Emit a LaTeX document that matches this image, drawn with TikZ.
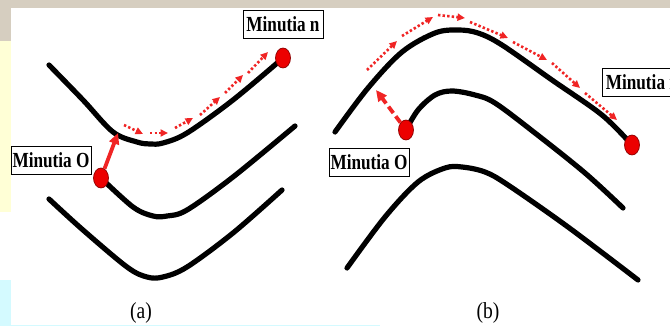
\documentclass[tikz,border=0pt]{standalone}
\usepackage{fontspec}
\usepackage{graphicx}
\setmainfont{Liberation Serif}
\usetikzlibrary{shapes.geometric,arrows.meta}
\definecolor{beige}{RGB}{214,206,192}
\definecolor{paleyel}{RGB}{255,255,214}
\definecolor{palecyan}{RGB}{212,250,255}
\definecolor{dotred}{RGB}{236,0,0}
\definecolor{arrred}{RGB}{240,36,36}
\begin{document}
\begin{tikzpicture}[x=1pt,y=-1pt,
  ridge/.style={line width=5.2pt, line cap=round, line join=round},
  mdot/.style={ellipse, fill=dotred, draw=red!55!black, line width=0.7pt,
    minimum width=15pt, minimum height=20pt, inner sep=0pt},
  lbl/.style={draw, line width=0.8pt, fill=white, inner sep=0pt,
    minimum width=80pt, minimum height=28pt,
    font=\fontsize{21.5}{21.5}\selectfont\bfseries},
  trail/.style={arrred, line width=2.6pt, dash pattern=on 2.4pt off 2.2pt,
    -{Triangle[length=7.5pt,width=7pt]}},
  solidarr/.style={arrred, line width=3.8pt, -{Triangle[length=11pt,width=10pt]}},
  dasharr/.style={arrred, line width=3.8pt, dash pattern=on 8pt off 4pt,
    -{Triangle[length=11pt,width=10pt]}},
  captext/.style={font=\fontsize{23}{23}\selectfont}
]
\useasboundingbox (0,0) rectangle (670,326);
\clip (0,0) rectangle (670,326);
% background
\fill[white] (0,0) rectangle (670,326);
\fill[beige] (0,0) rectangle (670,8);
\fill[beige] (0,0) rectangle (11,41);
\fill[paleyel] (0,41) rectangle (11,212);
\fill[palecyan] (0,280) rectangle (11,326);
\fill[palecyan] (11,324.6) rectangle (380,326);

% ---------- panel (a) ----------
\coordinate (pa0) at (101,178);
\coordinate (pan) at (283,58);
\draw[ridge] plot[smooth, tension=0.55] coordinates {(49,65) (83,100) (113,132) (137,142) (150,144) (163,143) (187,133) (233,100) (pan)};
\draw[ridge] plot[smooth, tension=0.55] coordinates {(pa0) (133,207) (153,216) (167,216) (187,210) (233,177) (295,126)};
\draw[ridge] plot[smooth, tension=0.55] coordinates {(49,199) (83,230) (127,267) (147,277) (163,277) (187,267) (233,233) (282,190)};
\node[mdot] (a0) at (pa0) {};
\node[mdot] (an) at (pan) {};
\node[lbl] (la0) at (51,160) {\scalebox{0.8}[1]{Minutia O}};
\node[lbl] (lan) at (283,24) {\scalebox{0.8}[1]{Minutia n}};
\coordinate (ta) at (118,133);
\draw[solidarr] (a0) -- (ta);
\coordinate (a1s) at (124,125); \coordinate (a1e) at (143,134);
\coordinate (a2s) at (150,133); \coordinate (a2e) at (168,133);
\coordinate (a3s) at (175,128); \coordinate (a3e) at (193,118);
\coordinate (a4s) at (200,115); \coordinate (a4e) at (220,97);
\coordinate (a5s) at (225,93);  \coordinate (a5e) at (243,75);
\coordinate (a6s) at (248,73);  \coordinate (a6e) at (268,52);
\foreach \i in {1,...,6} \draw[trail] (a\i s) -- (a\i e);
\node[captext] (capa) at (141,313) {\scalebox{0.85}[1]{(a)}};

% ---------- panel (b) ----------
\coordinate (pb0) at (406,130);
\coordinate (pbn) at (632,145);
\draw[ridge] plot[smooth, tension=0.55] coordinates {(335,132) (368,88) (402,52) (435,33) (458,30) (478,33) (502,45) (552,80) (602,115) (pbn)};
\draw[ridge] plot[smooth, tension=0.55] coordinates {(pb0) (418,110) (435,95) (452,91) (475,95) (495,103) (535,133) (585,173) (623,208)};
\draw[ridge] plot[smooth, tension=0.55] coordinates {(347,268) (385,217) (418,182) (445,168) (462,167) (485,172) (508,185) (568,227) (638,280)};
\node[mdot] (b0) at (pb0) {};
\node[mdot] (bn) at (pbn) {};
\node[lbl] (lb0) at (369,162) {\scalebox{0.8}[1]{Minutia O}};
\node[lbl, anchor=west] (lbn) at (602,82) {\scalebox{0.8}[1]{Minutia n}};
\coordinate (tb) at (376,90);
\draw[dasharr] (b0) -- (tb);
\coordinate (b1s) at (367,70); \coordinate (b1e) at (397,41);
\coordinate (b2s) at (402,36); \coordinate (b2e) at (433,17);
\coordinate (b3s) at (438,15); \coordinate (b3e) at (465,18);
\coordinate (b4s) at (470,22); \coordinate (b4e) at (508,38);
\coordinate (b5s) at (513,42); \coordinate (b5e) at (547,60);
\coordinate (b6s) at (552,63); \coordinate (b6e) at (580,88);
\coordinate (b7s) at (585,93); \coordinate (b7e) at (617,120);
\foreach \i in {1,...,7} \draw[trail] (b\i s) -- (b\i e);
\node[captext] (capb) at (488,313) {\scalebox{0.85}[1]{(b)}};
\end{tikzpicture}
\end{document}
